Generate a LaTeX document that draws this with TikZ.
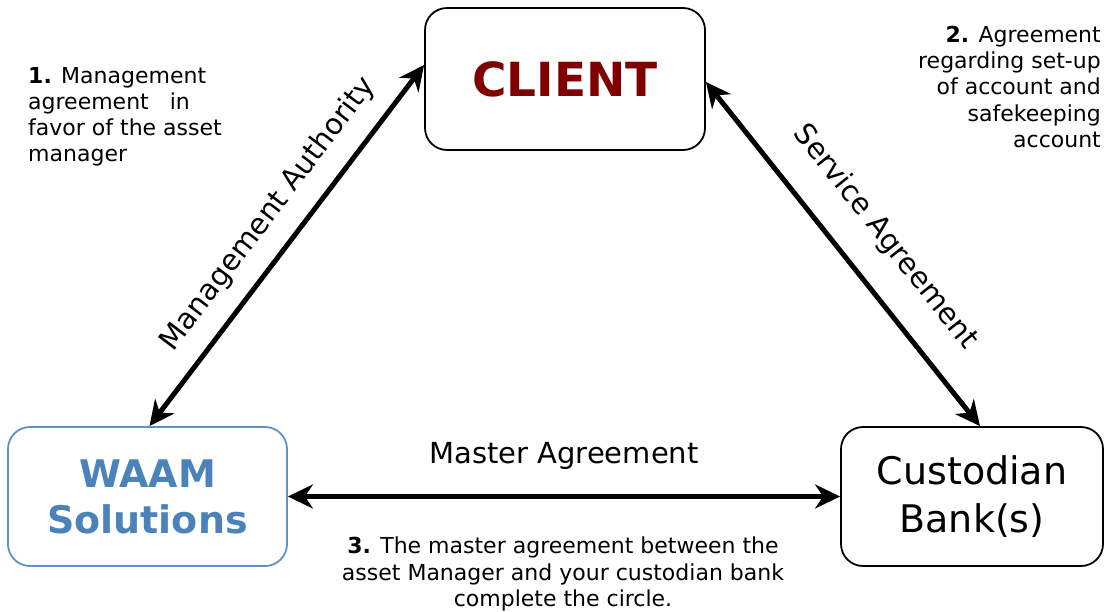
\documentclass[tikz,border=0pt]{standalone}
\usepackage{fontspec}
\setmainfont{DejaVu Sans}
\usetikzlibrary{arrows.meta}
\definecolor{clientred}{RGB}{128,0,0}
\definecolor{waamblue}{RGB}{74,130,185}
\definecolor{waamedge}{RGB}{95,145,195}

\begin{document}
\begin{tikzpicture}[x=1pt, y=-1pt,
    box/.style={draw, line width=1.8pt, rounded corners=22pt, align=center, inner sep=0pt},
    link/.style={line width=5pt, {Stealth[length=25pt,width=24pt,inset=8pt]}-{Stealth[length=25pt,width=24pt,inset=8pt]}},
    lbl/.style={font=\fontsize{29}{34}\selectfont, inner sep=0pt},
    note/.style={font=\fontsize{22}{26.2}\selectfont, inner sep=0pt}]

    \useasboundingbox (0,0) rectangle (1105,611);

    % Parties
    \node[box, minimum width=280pt, minimum height=142pt, text=clientred,
          font={\fontsize{47}{50}\selectfont\bfseries}] (client) at (565,79) {CLIENT};
    \node[box, draw=waamedge, minimum width=279pt, minimum height=139pt, text=waamblue,
          font={\fontsize{38}{46}\selectfont\bfseries}] (waam) at (147.5,496.5) {WAAM\\Solutions};
    \node[box, minimum width=262pt, minimum height=139pt,
          font={\fontsize{38}{48}\selectfont}] (bank) at (972,496.5) {Custodian\\Bank(s)};

    % Agreements
    \draw[link] ([xshift=2pt]waam.north) -- ([yshift=14pt]client.west)
        node[lbl, sloped, pos=0.53, above=17pt] {Management Authority};
    \draw[link] ([yshift=-3pt]client.east) -- ([xshift=8pt]bank.north)
        node[lbl, sloped, pos=0.53, above=27pt] {Service Agreement};
    \draw[link] (waam.east) -- (bank.west)
        node[lbl, midway, above=24pt] {Master Agreement};

    % Notes
    \node[note, anchor=north west, align=left] (noteone) at (28,67)
        {\textbf{1.} Management\\agreement\ \ \ in\\favor of the asset\\manager};
    \node[note, anchor=north east, align=right] (notetwo) at (1101,26)
        {\textbf{2.} Agreement\\regarding set-up\\of account and\\safekeeping\\account};
    \node[note, anchor=north, align=center] (notethree) at (563,537)
        {\textbf{3.} The master agreement between the\\asset Manager and your custodian bank\\complete the circle.};
\end{tikzpicture}
\end{document}
